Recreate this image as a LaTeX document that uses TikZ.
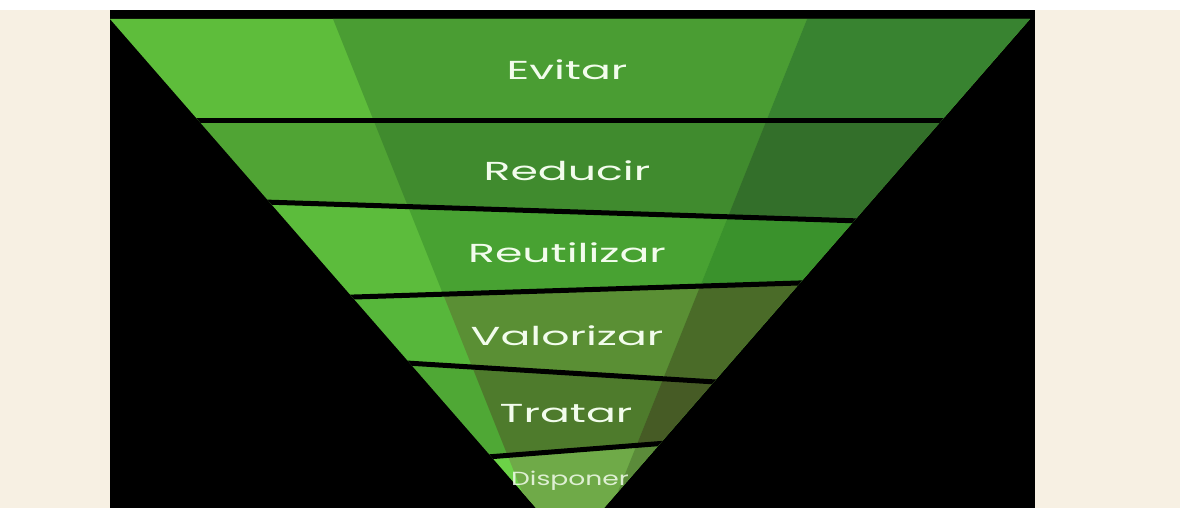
\documentclass[tikz,border=0pt]{standalone}
\usepackage{fontspec}
\setmainfont{Poppins}
\usepackage{graphicx}
\definecolor{paper}{HTML}{F7F0E3}
\definecolor{stagetext}{HTML}{F2FCEC}
\definecolor{evitarL}{HTML}{5EBD3B}
\definecolor{evitarM}{HTML}{4A9D33}
\definecolor{evitarD}{HTML}{388330}
\definecolor{reducirL}{HTML}{50A434}
\definecolor{reducirM}{HTML}{408B2E}
\definecolor{reducirD}{HTML}{336F2A}
\definecolor{reutilL}{HTML}{5CBC3C}
\definecolor{reutilM}{HTML}{48A232}
\definecolor{reutilD}{HTML}{3A922C}
\definecolor{valorL}{HTML}{57B73B}
\definecolor{valorM}{HTML}{5A8F34}
\definecolor{valorD}{HTML}{4A6B28}
\definecolor{tratarL}{HTML}{4FA835}
\definecolor{tratarM}{HTML}{4E7B2C}
\definecolor{tratarD}{HTML}{465B25}
\definecolor{dispL}{HTML}{6CD247}
\definecolor{dispM}{HTML}{6FAA48}
\definecolor{dispD}{HTML}{5B8B3A}
\usetikzlibrary{positioning}
\tikzstyle{stage} = [text=stagetext, inner sep=0pt, anchor=base]
\tikzstyle{gap} = [line width=5pt, black]
\newcommand{\widen}[2][1.7]{\scalebox{#1}[1]{#2}}
% one band of the funnel: y of its corners (top left, top right, bottom left, bottom right), then light, middle, dark
\newcommand{\wasteBand}[7]{
	\begin{scope}
		\clip (100,#1) -- (1040,#2) -- (1040,#4) -- (100,#3) -- cycle;
		\fill[#5] (100,0) rectangle (1040,560);
		\fill[#6] (333,19) -- (807,19) -- (590.6,560) -- (549.4,560) -- cycle;
		\fill[#7] (807,19) -- (1040,19) -- (1040,560) -- (590.6,560) -- cycle;
	\end{scope}
}

\begin{document}
\begin{tikzpicture}[x=1pt, y=-1pt]
	\clip (0,0) rectangle (1180,508);
	\fill[paper] (0,0) rectangle (1180,508);
	\fill[white] (0,0) rectangle (1180,10);
	\fill[black] (110,10) rectangle (1035,508);
	\begin{scope}
		\clip (110,19) -- (1030,19) -- (570,547) -- cycle;
		\wasteBand{19}{19}{121}{121}{evitarL}{evitarM}{evitarD}
		\wasteBand{121}{121}{196.8}{226.7}{reducirL}{reducirM}{reducirD}
		\wasteBand{196.8}{226.7}{305.0}{275.4}{reutilL}{reutilM}{reutilD}
		\wasteBand{305.0}{275.4}{344.2}{401.9}{valorL}{valorM}{valorD}
		\wasteBand{344.2}{401.9}{487.1}{414.0}{tratarL}{tratarM}{tratarD}
		\wasteBand{487.1}{414.0}{560}{560}{dispL}{dispM}{dispD}
		%\draw[gap] (100,19) -- (1040,19);
		\draw[gap] (100,121) -- (1040,121);
		\draw[gap] (100,196.8) -- (1040,226.7);
		\draw[gap] (100,305.0) -- (1040,275.4);
		\draw[gap] (100,344.2) -- (1040,401.9);
		\draw[gap] (100,487.1) -- (1040,414.0);
	\end{scope}
	\node (evitar) at (567,80) [stage, font=\fontsize{26}{30}\selectfont] {\widen{Evitar}};
	\node (reducir) at (567,180) [stage, font=\fontsize{26}{30}\selectfont] {\widen{Reducir}};
	\node (reutilizar) at (567,262) [stage, font=\fontsize{26}{30}\selectfont] {\widen{Reutilizar}};
	\node (valorizar) at (567,345) [stage, font=\fontsize{26}{30}\selectfont] {\widen{Valorizar}};
	\node (tratar) at (566,422) [stage, font=\fontsize{26}{30}\selectfont] {\widen{Tratar}};
	\node (disponer) at (570,485) [stage, font=\fontsize{19}{22}\selectfont, opacity=0.85] {\widen[1.4]{Disponer}};
\end{tikzpicture}
\end{document}
